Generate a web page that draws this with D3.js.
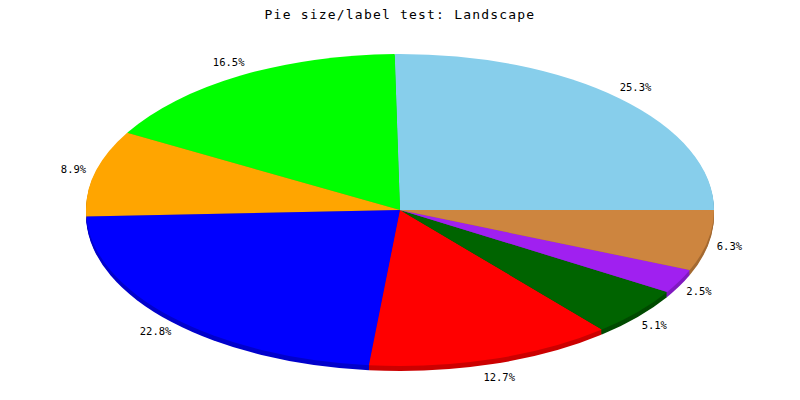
<!DOCTYPE html>
<html><head><meta charset="utf-8">
<script src="https://cdn.jsdelivr.net/npm/d3@7"></script>
<style>body{margin:0;background:#fff}</style>
</head><body>
<svg id="c" width="800" height="400"></svg>
<script>
const title = "Pie size/label test: Landscape";
const categories = ["A","B","C","D","E","F","G","H"];
const values = [25.3, 16.5, 8.9, 22.8, 12.7, 5.1, 2.5, 6.3];
const colors = ["#87CEEB","#00FF00","#FFA500","#0000FF","#FF0000","#006400","#A020F0","#CD853F"];
const shades = ["#6CA5BC","#00CC00","#CC8400","#0000CC","#CC0000","#004B00","#801AC0","#A46A32"];

const W = 800, H = 400, cx = 400, cy = 210, rx = 314, ry = 156, depth = 5;
const svg = d3.select("#c");
svg.append("rect").attr("width", W).attr("height", H).attr("fill", "#fff");

svg.append("text").attr("x", 400).attr("y", 19).attr("text-anchor", "middle")
  .attr("font-family", "DejaVu Sans Mono").attr("font-size", 13).attr("font-weight", "normal")
  .attr("letter-spacing", "1.2px").attr("fill", "#000").text(title);

const pie = d3.pie().sort(null).startAngle(Math.PI / 2).endAngle(Math.PI / 2 - 2 * Math.PI);
const arcs = pie(values);
const arc = d3.arc().innerRadius(0).outerRadius(1);

// shading layers
for (let i = depth; i >= 1; i--) {
  const g = svg.append("g").attr("transform", `translate(${cx},${cy + i}) scale(${rx},${ry})`);
  g.selectAll("path").data(arcs).join("path")
    .attr("d", arc).attr("fill", (d, j) => shades[j]).attr("stroke", "none");
}
const faceG = svg.append("g").attr("transform", `translate(${cx},${cy}) scale(${rx},${ry})`);
faceG.selectAll("path").data(arcs).join("path")
  .attr("d", arc).attr("fill", (d, j) => colors[j]).attr("stroke", "none");

// labels
const lrx = 336, lry = 172;
svg.selectAll("text.lbl").data(arcs).join("text").attr("class", "lbl")
  .attr("x", d => { const m = (d.startAngle + d.endAngle) / 2; const s = Math.sin(m); return cx + lrx * s - 6 * Math.cos(m) * (s < 0 ? 1 : -1) * 0; })
  .attr("y", d => { const m = (d.startAngle + d.endAngle) / 2; const c = -Math.cos(m); return cy + lry * c + (c > 0 ? 3 : 0); })
  .attr("dy", "0.35em").attr("text-anchor", "middle")
  .attr("font-family", "DejaVu Sans Mono").attr("font-size", 10.5).attr("fill", "#000")
  .text(d => (d.value).toFixed(1) + "%");
</script>
</body></html>
